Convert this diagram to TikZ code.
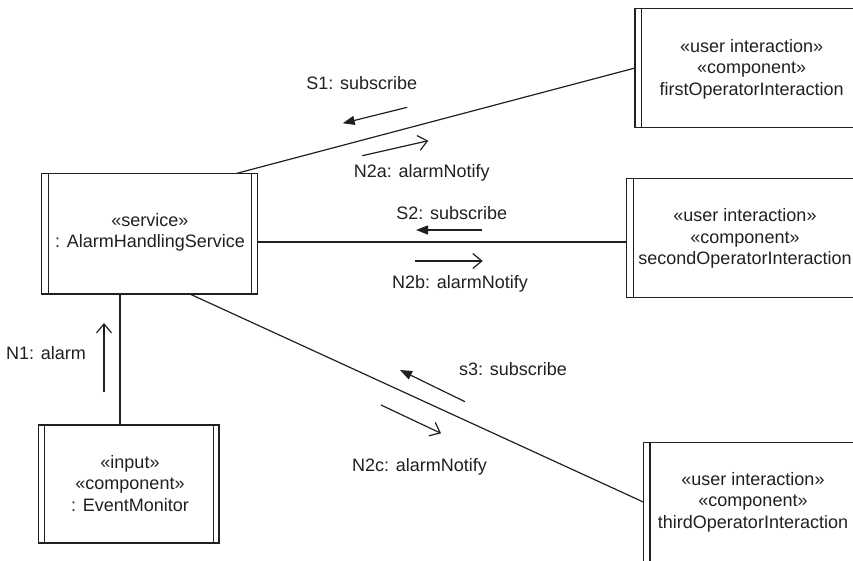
\documentclass[tikz,border=0pt]{standalone}
\usepackage{fontspec}
\setmainfont{Liberation Sans}
\usetikzlibrary{arrows.meta,calc}
\definecolor{ink}{HTML}{231F20}
\begin{document}
\begin{tikzpicture}[x=1pt,y=-1pt,
  every node/.style={inner sep=0pt,outer sep=0pt,text=ink,align=center,font=\fontsize{18}{21.5}\selectfont},
  box/.style={draw=ink,line width=1.2pt,rectangle},
  bar/.style={draw=ink,line width=1.2pt},
  link/.style={draw=ink,line width=1.2pt},
  sendmsg/.style={draw=ink,line width=1.2pt,-{Straight Barb[length=9pt,width=15pt,line width=1.2pt]}},
  submsg/.style={draw=ink,line width=1.2pt,-{Triangle[length=12pt,width=9pt]}},
  lbl/.style={anchor=center}]
\useasboundingbox (0,0) rectangle (853,560);
\clip (0,0) rectangle (853,560);

% boxes
\node[box,minimum width=216pt,minimum height=120.7pt] (svc) at (149.7,233.7) {};
\node (svct) at (150,232.4) {«service»\\: AlarmHandlingService};
\draw[bar] ([xshift=6.6pt]svc.north west) -- ([xshift=6.6pt]svc.south west);
\draw[bar] ([xshift=-6.6pt]svc.north east) -- ([xshift=-6.6pt]svc.south east);

\node[box,minimum width=233.4pt,minimum height=119.4pt] (op1) at (751.7,68) {};
\node (op1t) at (751.7,69) {«user interaction»\\«component»\\firstOperatorInteraction};
\draw[bar] ([xshift=6.6pt]op1.north west) -- ([xshift=6.6pt]op1.south west);

\node[box,minimum width=236.6pt,minimum height=119pt] (op2) at (745,237.8) {};
\node (op2t) at (745,238.5) {«user interaction»\\«component»\\secondOperatorInteraction};
\draw[bar] ([xshift=6.6pt]op2.north west) -- ([xshift=6.6pt]op2.south west);

\node[box,minimum width=219.4pt,minimum height=119.4pt] (op3) at (753,502) {};
\node (op3t) at (753,502) {«user interaction»\\«component»\\thirdOperatorInteraction};
\draw[bar] ([xshift=6.6pt]op3.north west) -- ([xshift=6.6pt]op3.south west);

\node[box,minimum width=180.7pt,minimum height=118pt] (em) at (128.7,484) {};
\node (emt) at (130,483.3) {«input»\\«component»\\: EventMonitor};
\draw[bar] ([xshift=5.8pt]em.north west) -- ([xshift=5.8pt]em.south west);
\draw[bar] ([xshift=-5.8pt]em.north east) -- ([xshift=-5.8pt]em.south east);

% links
\draw[link] ([xshift=-21pt]svc.north east) -- (op1.west);
\draw[link] (svc.east |- 0,242) -- (op2.west |- 0,242);
\draw[link] ([xshift=-67.7pt]svc.south east) -- (op3.west);
\draw[link] (svc.south -| 120,0) -- (em.north -| 120,0);

% message arrows
\coordinate (s1a) at (407.3,107.3); \coordinate (s1b) at (342.7,123.3);
\coordinate (n2aa) at (362.3,155.7); \coordinate (n2ab) at (428.3,140.7);
\coordinate (s2a) at (481.7,230); \coordinate (s2b) at (416,230);
\coordinate (n2ba) at (415,261); \coordinate (n2bb) at (482.7,261);
\coordinate (s3a) at (465,401.7); \coordinate (s3b) at (400,370);
\coordinate (n2ca) at (381,405); \coordinate (n2cb) at (441,433.3);
\coordinate (n1a) at (104,392); \coordinate (n1b) at (104,323);

\draw[submsg] (s1a) -- (s1b);
\draw[sendmsg] (n2aa) -- (n2ab);
\draw[submsg] (s2a) -- (s2b);
\draw[sendmsg] (n2ba) -- (n2bb);
\draw[submsg] (s3a) -- (s3b);
\draw[sendmsg] (n2ca) -- (n2cb);
\draw[sendmsg] (n1a) -- (n1b);

% labels
\node[lbl] (l1) at (361.7,83) {S1: subscribe};
\node[lbl] (l2) at (421.7,173.3) {N2a: alarmNotify};
\node[lbl] (l3) at (451.7,213.3) {S2: subscribe};
\node[lbl] (l4) at (460,284) {N2b: alarmNotify};
\node[lbl] (l5) at (513,369) {s3: subscribe};
\node[lbl] (l6) at (419.5,467.3) {N2c: alarmNotify};
\node[lbl] (l7) at (46,353) {N1: alarm};
\end{tikzpicture}
\end{document}
